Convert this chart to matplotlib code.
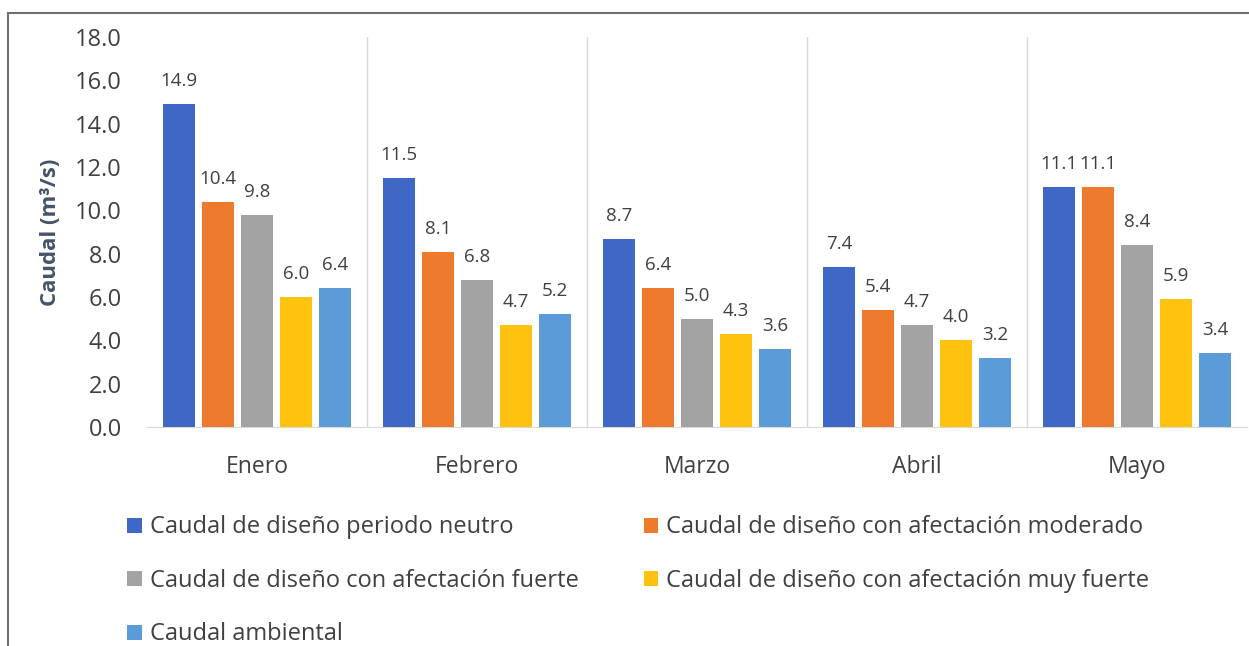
import matplotlib
matplotlib.use("Agg")
import matplotlib.pyplot as plt
from matplotlib.lines import Line2D
import numpy as np

months = ["Enero", "Febrero", "Marzo", "Abril", "Mayo"]
series_names = [
    "Caudal de diseño periodo neutro",
    "Caudal de diseño con afectación moderado",
    "Caudal de diseño con afectación fuerte",
    "Caudal de diseño con afectación muy fuerte",
    "Caudal ambiental",
]
neutro = [14.9, 11.5, 8.7, 7.4, 11.1]
moderado = [10.4, 8.1, 6.4, 5.4, 11.1]
fuerte = [9.8, 6.8, 5.0, 4.7, 8.4]
muy_fuerte = [6.0, 4.7, 4.3, 4.0, 5.9]
ambiental = [6.4, 5.2, 3.6, 3.2, 3.4]
series = [neutro, moderado, fuerte, muy_fuerte, ambiental]
colors = ["#3F68C6", "#EE7A2E", "#A3A3A3", "#FFC20E", "#5A9BD8"]
yticks = [0, 2, 4, 6, 8, 10, 12, 14, 16, 18]

plt.rcParams['font.family'] = ['Open Sans', 'DejaVu Sans']
W, H = 1249, 646
fig = plt.figure(figsize=(W / 100, H / 100), dpi=100)
ax = fig.add_axes([147 / W, 1 - 427 / H, 1100 / W, 390 / H])

x = np.arange(len(months))
step = 0.177
width = 0.145
handles = []
for i, (vals, c, name) in enumerate(zip(series, colors, series_names)):
    pos = x + (i - 2) * step
    bars = ax.bar(pos, vals, width=width, color=c, label=name, zorder=3)
    handles.append(bars)
    for xp, v in zip(pos, vals):
        ax.annotate(f"{v:.1f}", (xp, v), xytext=(0, 10), textcoords="offset points",
                    ha="center", va="bottom", fontsize=13.5, color="#404040")

ax.set_xlim(-0.5, len(months) - 0.5)
ax.set_ylim(0, 18)
ax.set_yticks(yticks)
ax.set_yticklabels([f"{t:.1f}" for t in yticks], fontsize=17, color="#404040")
ax.set_xticks(x)
ax.set_xticklabels(months, fontsize=16.5, color="#404040")
for b in np.arange(0.5, len(months) - 0.5, 1):
    ax.axvline(b, color="#D9D9D9", lw=1, zorder=1)
for s in ["top", "right", "left"]:
    ax.spines[s].set_visible(False)
ax.spines["bottom"].set_color("#D9D9D9")
ax.tick_params(axis="both", length=0)
ax.tick_params(axis="x", pad=20)
ax.tick_params(axis="y", pad=18)
ax.set_ylabel("Caudal (m³/s)", fontsize=16, fontweight="bold", color="#44546A", labelpad=10)

order = [0, 2, 4, 1, 3]
leg = fig.legend([handles[i] for i in order], [series_names[i] for i in order],
                 ncol=2, loc="upper left", bbox_to_anchor=(118 / W, 1 - 506 / H),
                 frameon=False, fontsize=17, handlelength=0.6, handleheight=0.6,
                 handletextpad=0.35, columnspacing=2.75, labelspacing=1.25,
                 labelcolor="#404040", borderaxespad=0)

fig.add_artist(Line2D([8 / W, 8 / W], [0, 1 - 13 / H], transform=fig.transFigure,
                      color="#707070", lw=1.5))
fig.add_artist(Line2D([8 / W, 1], [1 - 13 / H, 1 - 13 / H], transform=fig.transFigure,
                      color="#707070", lw=1.5))

fig.savefig("out.png", dpi=100, facecolor="white")
